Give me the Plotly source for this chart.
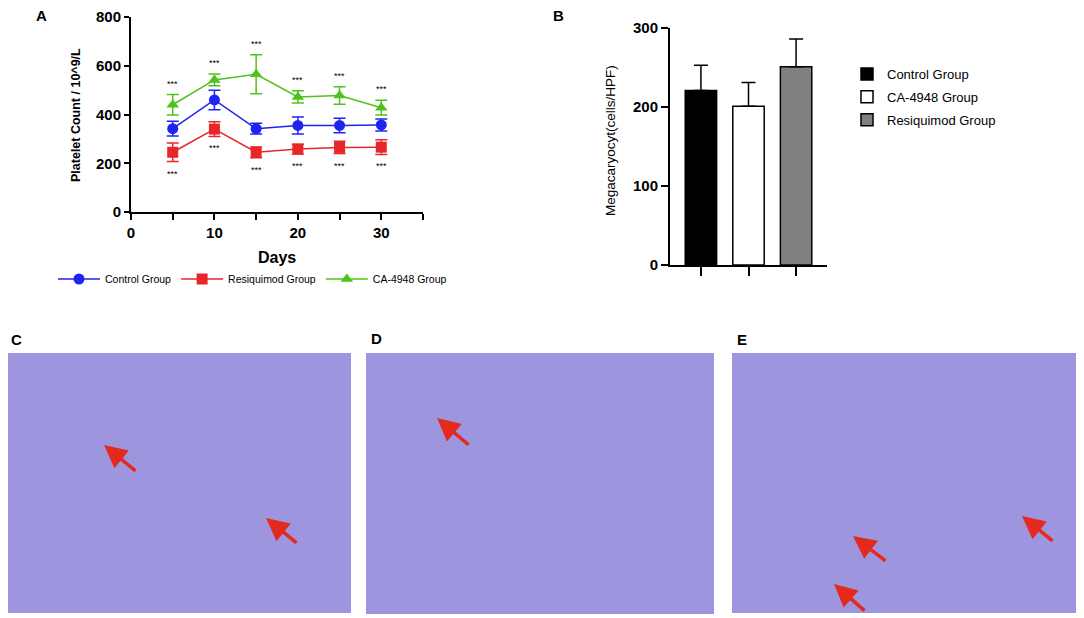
import plotly.graph_objects as go

W, H = 1084, 618
OFF = 8  # page body margin in the browser

# ---------------- data ----------------
days = [5, 10, 15, 20, 25, 30]
control_mean = [342, 460, 342, 355, 355, 357]
control_sd = [30, 40, 22, 35, 30, 25]
resiq_mean = [245, 340, 245, 258, 265, 266]
resiq_sd = [38, 30, 22, 20, 25, 30]
ca_mean = [440, 542, 565, 472, 478, 428]
ca_sd = [42, 24, 80, 25, 36, 30]
sig_label = "***"

x_tickvals = [0, 5, 10, 15, 20, 25, 30, 35]
x_ticktext = ["0", "", "10", "", "20", "", "30", ""]
y_tickvals_a = [0, 200, 400, 600, 800]

groups_b = ["Control Group", "CA-4948 Group", "Resiquimod Group"]
mega_mean = [221, 201, 251]
mega_sd = [32, 30, 35]
colors_b = ["#000000", "#ffffff", "#808080"]
y_tickvals_b = [0, 100, 200, 300]

panel_letters = ["A", "B", "C", "D", "E"]

FONT = "Liberation Sans, Arial, sans-serif"


def px(x):
    return (x - OFF) / W


def py(y):
    return 1 - (y - OFF) / H


fig = go.Figure()

# ---------------- Panel A ----------------
series = [
    ("Control Group", control_mean, control_sd, "#1f24f0", "circle"),
    ("Resiquimod Group", resiq_mean, resiq_sd, "#e8262a", "square"),
    ("CA-4948 Group", ca_mean, ca_sd, "#4fc21c", "triangle-up"),
]
for name, m, sd, c, sym in series:
    fig.add_trace(go.Scatter(
        x=days, y=m, name=name, mode="lines+markers",
        line=dict(color=c, width=1.5),
        marker=dict(color=c, symbol=sym, size=11),
        error_y=dict(type="data", array=sd, visible=True, color=c,
                     thickness=1.5, width=6),
        xaxis="x", yaxis="y", legend="legend",
    ))

annotations = []
for d, m, s in zip(days, ca_mean, ca_sd):
    annotations.append(dict(x=d, y=m + s, xref="x", yref="y", text=sig_label,
                            showarrow=False, yshift=11,
                            xanchor="center", yanchor="middle",
                            font=dict(size=9, color="black", family=FONT)))
for d, m, s in zip(days, resiq_mean, resiq_sd):
    annotations.append(dict(x=d, y=m - s, xref="x", yref="y", text=sig_label,
                            showarrow=False, yshift=-12,
                            xanchor="center", yanchor="middle",
                            font=dict(size=9, color="black", family=FONT)))

# ---------------- Panel B ----------------
for i, g in enumerate(groups_b):
    fig.add_trace(go.Bar(
        x=[i], y=[mega_mean[i]], name=g, width=0.66, legendgroup=g,
        marker=dict(color=colors_b[i], line=dict(color="black", width=1.5)),
        error_y=dict(type="data", symmetric=False, array=[mega_sd[i]],
                     arrayminus=[0], visible=True, color="black",
                     thickness=1.5, width=7),
        xaxis="x2", yaxis="y2", legend="legend2",
    ))

axis_common = dict(showline=True, linecolor="black", linewidth=2,
                   ticks="outside", tickwidth=2, tickcolor="black",
                   showgrid=False, zeroline=False, automargin=False)

fig.update_layout(
    width=W, height=H,
    margin=dict(l=0, r=0, t=0, b=0),
    paper_bgcolor="white", plot_bgcolor="white",
    font=dict(family=FONT, color="black"),
    xaxis=dict(domain=[px(131), px(423)], range=[0, 35], anchor="y",
               tickvals=x_tickvals, ticktext=x_ticktext, ticklen=6,
               tickfont=dict(size=15, weight="bold"), **axis_common),
    yaxis=dict(domain=[py(212), py(17)], range=[0, 800], anchor="x",
               tickvals=y_tickvals_a, ticklen=5,
               tickfont=dict(size=15, weight="bold"), **axis_common),
    xaxis2=dict(domain=[px(670), px(827)], range=[-0.65, 2.65], anchor="y2",
                tickvals=[0, 1, 2], ticktext=["", "", ""], ticklen=9,
                **axis_common),
    yaxis2=dict(domain=[py(265), py(28)], range=[0, 300], anchor="x2",
                tickvals=y_tickvals_b, ticklen=7,
                tickfont=dict(size=15, weight="bold"), **axis_common),
    legend=dict(orientation="h", x=px(53), y=py(279), xanchor="left",
                yanchor="middle", font=dict(size=10.5), bgcolor="rgba(0,0,0,0)",
                itemwidth=42, tracegroupgap=0),
    legend2=dict(orientation="v", x=px(847), y=py(59), xanchor="left",
                 yanchor="top", font=dict(size=13), bgcolor="rgba(0,0,0,0)",
                 tracegroupgap=3, itemwidth=30),
    bargap=0.3,
)

annotations += [
    dict(x=px(76), y=py(115), xref="paper", yref="paper",
         text="<b>Platelet Count / 10^9/L</b>", textangle=-90, showarrow=False,
         xanchor="center", yanchor="middle", font=dict(size=12.5)),
    dict(x=px(277), y=py(258), xref="paper", yref="paper", text="<b>Days</b>",
         showarrow=False, xanchor="center", yanchor="middle",
         font=dict(size=16)),
    dict(x=px(610), y=py(141), xref="paper", yref="paper",
         text="Megacaryocyt(cells/HPF)", textangle=-90, showarrow=False,
         xanchor="center", yanchor="middle", font=dict(size=13.5)),
]

# panel letters: (x, y, xanchor)
letter_pos = [(41, 16, "center"), (558, 16, "center"), (OFF + 1, 339, "left"),
              (376, 338, "center"), (742, 339, "center")]
for L, (lx, ly, xa) in zip(panel_letters, letter_pos):
    annotations.append(dict(x=px(lx), y=py(ly), xref="paper", yref="paper",
                            text=f"<b>{L}</b>", showarrow=False,
                            xanchor=xa, yanchor="middle",
                            font=dict(size=15)))

shapes = []
img_boxes = [(3, 353, 351, 613), (366, 353, 714, 614), (732, 353, 1080, 613)]
for (x0, y0, x1, y1) in img_boxes:
    shapes.append(dict(type="rect", xref="paper", yref="paper",
                       x0=px(x0), x1=px(x1), y0=py(y1), y1=py(y0),
                       fillcolor="#9d96df", line=dict(width=0), layer="below"))

arrows = [
    ((104, 445), (137, 472)), ((266, 518), (298, 544)),
    ((437, 418), (470, 446)),
    ((853, 536), (887, 562)), ((834, 584), (866, 612)), ((1022, 516), (1054, 542)),
]
for (hx, hy), (tx, ty) in arrows:
    annotations.append(dict(x=px(hx), y=py(hy), xref="paper", yref="paper",
                            ax=tx - hx, ay=ty - hy, text="", showarrow=True,
                            arrowhead=2, arrowsize=1.3, arrowwidth=3.5,
                            arrowcolor="#e42a1f"))

fig.update_layout(annotations=annotations, shapes=shapes)

fig.write_html("out.html")
